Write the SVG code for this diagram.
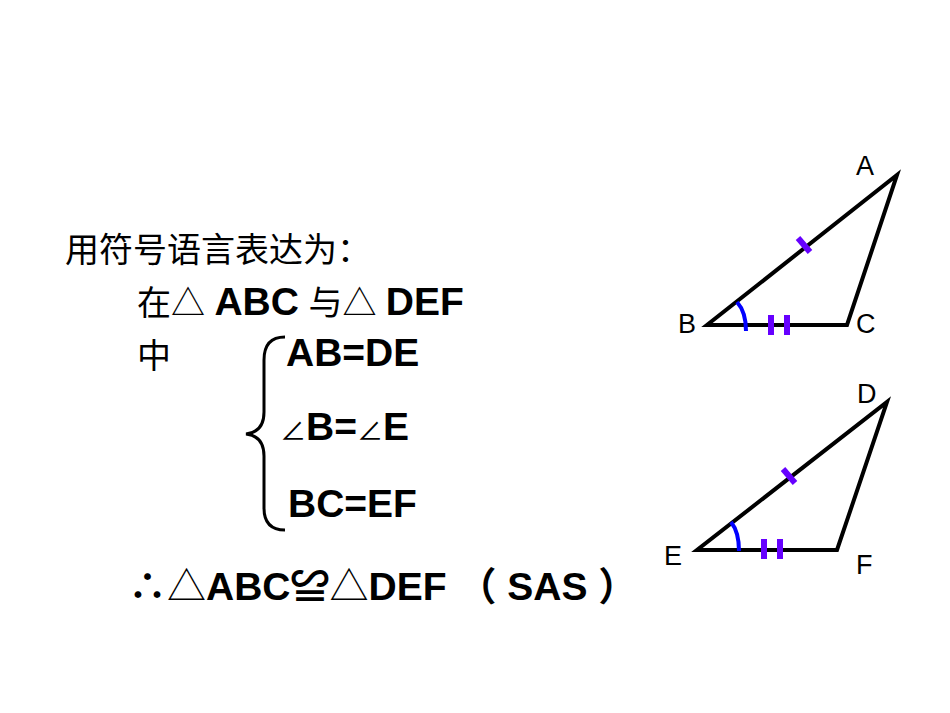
<svg xmlns="http://www.w3.org/2000/svg" width="950" height="713" viewBox="0 0 950 713">
<style>
.t{font-family:"Liberation Sans","Noto Sans CJK SC",sans-serif;font-size:34px;fill:#000}
.b{font-family:"Liberation Sans","Noto Sans CJK SC",sans-serif;font-size:39px;font-weight:bold;fill:#000}
.l{font-family:"Liberation Sans",sans-serif;font-size:27px;fill:#000}
.s{fill:none;stroke:#000;stroke-width:4}
.tk{stroke:#6600ff;stroke-width:6}
.ar{fill:none;stroke:#0000ff;stroke-width:4}
</style>
<rect width="950" height="713" fill="#fff"/>
<g id="text">
<text class="t" x="65" y="262">用符号语言表达为：</text>
<text class="t" x="137" y="315">在△ <tspan class="b" font-size="37">ABC</tspan> 与△ <tspan class="b" font-size="37">DEF</tspan></text>
<text class="t" x="137" y="368">中</text>
<path d="M285,337 Q264,337 264,360 L264,412 Q264,432 246,434 Q264,436 264,456 L264,508 Q264,530 285,530" fill="none" stroke="#000" stroke-width="3"/>
<text class="b" x="286" y="366">AB=DE</text>
<text class="b" x="280" y="440"><tspan font-size="26" font-weight="normal">∠</tspan>B=<tspan font-size="26" font-weight="normal">∠</tspan>E</text>
<text class="b" x="288" y="517">BC=EF</text>
<text class="b" x="128" y="600" font-size="35">∴<tspan font-weight="normal">△</tspan>ABC≌<tspan font-weight="normal">△</tspan>DEF （ SAS ）</text>
</g>
<g id="tri1">
<path class="s" d="M707,325 L847,325 L897,175 Z"/>
<path class="ar" d="M737,302 Q746,312 746,331"/>
<line class="tk" x1="798" y1="238" x2="810" y2="252"/>
<line class="tk" x1="771" y1="315" x2="771" y2="335"/>
<line class="tk" x1="787" y1="315" x2="787" y2="335"/>
<text class="l" x="678" y="333">B</text>
<text class="l" x="856" y="333">C</text>
<text class="l" x="856" y="175">A</text>
</g>
<g id="tri2">
<path class="s" d="M697,550 L837,550 L887,402 Z"/>
<path class="ar" d="M731,522 Q739,532 739,551"/>
<line class="tk" x1="783" y1="469" x2="795" y2="483"/>
<line class="tk" x1="764" y1="539" x2="764" y2="559"/>
<line class="tk" x1="780" y1="539" x2="780" y2="559"/>
<text class="l" x="664" y="565">E</text>
<text class="l" x="856" y="574">F</text>
<text class="l" x="857" y="403">D</text>
</g>
</svg>
